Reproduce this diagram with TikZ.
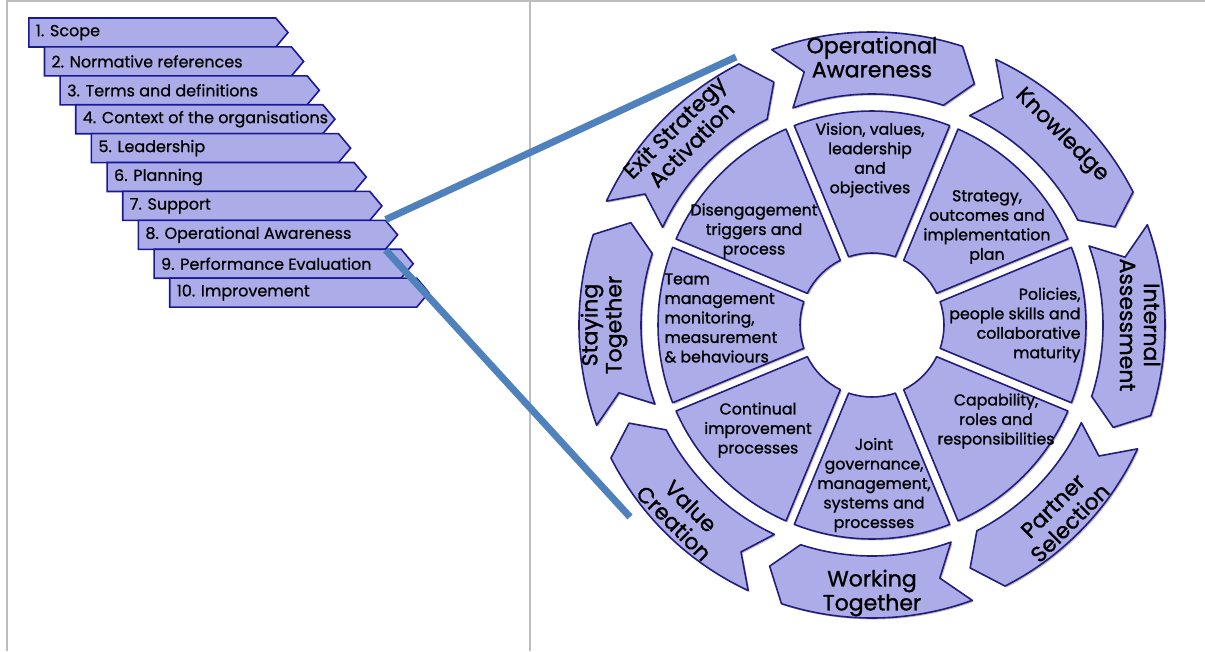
\documentclass[tikz,border=0pt]{standalone}
\usepackage{fontspec}
\setmainfont{Poppins}
\newfontfamily\wheelfont[FakeBold=1.2]{Poppins}
\newfontfamily\listfont[FakeBold=0.7]{Poppins}
\usetikzlibrary{shapes.symbols}
\definecolor{lav}{RGB}{172,172,232}
\definecolor{navy}{RGB}{35,30,125}
\definecolor{boxline}{RGB}{25,25,150}
\definecolor{linkblue}{RGB}{79,129,189}
\definecolor{framegray}{RGB}{190,190,190}
\tikzset{
  listbox/.style={shape=signal, signal to=east, signal pointer angle=100,
    draw=boxline, line width=1.6pt, fill=lav, minimum height=29pt,
    inner xsep=7pt, inner ysep=0pt, anchor=west,
    font=\listfont\fontsize{16}{19}\selectfont},
  ringarrow/.style={draw=navy, line width=1.6pt, fill=lav, line join=round,
    preaction={fill=black!25, transform canvas={shift={(1.5pt,-1.5pt)}}}},
  sector/.style={draw=navy, line width=1.6pt, fill=lav, line join=round,
    preaction={fill=black!25, transform canvas={shift={(1.5pt,-1.5pt)}}}},
  outerlabel/.style={font=\wheelfont\fontsize{22}{24}\selectfont, align=center},
  innerlabel/.style={font=\wheelfont\fontsize{15.8}{19.5}\selectfont, align=center},
  link/.style={draw=linkblue, line width=7pt}
}
\begin{document}
\begin{tikzpicture}[x=1pt,y=1pt]
    \useasboundingbox (0,0) rectangle (1205,-651);
    % table frame
    \draw[framegray, line width=2.5pt] (7,-651) -- (7,-1) -- (1205,-1);
    \draw[framegray, line width=2.5pt] (530,-1) -- (530,-651);

    % clause list
    \foreach \t [count=\i] in {1. Scope, 2. Normative references, 3. Terms and definitions,
        4. Context of the organisations, 5. Leadership, 6. Planning, 7. Support,
        8. Operational Awareness, 9. Performance Evaluation, 10. Improvement}
      \node[listbox] (s\i) at ({28+15.66*(\i-1)},{-32.5-28.9*(\i-1)}) {\makebox[233pt][l]{\t}};

    % wheel
    \begin{scope}[shift={(872,-325)}]
      \foreach \a/\t/\r [count=\k] in {90/{Operational\\Awareness}/0, 45/Knowledge/-45,
          0/{Internal\\Assessment}/-90, -45/{Partner\\Selection}/45,
          -90/{Working\\Together}/0, -135/{Value\\Creation}/-45,
          180/{Staying\\Together}/90, 135/{Exit Strategy\\Activation}/45}
      {
        \draw[ringarrow] ({\a+20}:293) arc[start angle={\a+20}, end angle={\a-18}, radius=293]
          -- ({\a-23}:262) -- ({\a-18}:231) arc[start angle={\a-18}, end angle={\a+20}, radius=231]
          -- ({\a+15}:262) -- cycle;
        \node[outerlabel, rotate=\r] (ring\k) at (\a:268) {\t};
      }
      \foreach \a in {90,45,...,-225}
        \draw[sector] ({\a+18.9}:72) -- ({\a+21.3}:214)
          arc[start angle={\a+21.3}, end angle={\a-21.3}, radius=214]
          -- ({\a-18.9}:72) arc[start angle={\a-18.9}, end angle={\a+18.9}, radius=72] -- cycle;
      \node[innerlabel] (vision) at (-2,165) {Vision, values,\\leadership\\and\\objectives};
      \node[innerlabel] (strategy) at (115,98) {Strategy,\\outcomes and\\implementation\\plan};
      \node[innerlabel, align=right, anchor=east] (policies) at (212,0) {Policies,\\people skills and\\collaborative\\maturity};
      \node[innerlabel] (capability) at (124,-96) {Capability,\\roles and\\responsibilities};
      \node[innerlabel] (joint) at (2,-160) {Joint\\governance,\\management,\\systems and\\processes};
      \node[innerlabel] (continual) at (-114,-105) {Continual\\improvement\\processes};
      \node[innerlabel, align=left, anchor=west] (team) at (-211,7) {Team\\management\\monitoring,\\measurement\\\& behaviours};
      \node[innerlabel] (disengage) at (-118,94) {Disengagement\\triggers and\\process};
    \end{scope}

    % links from clause 8 to the wheel
    \coordinate (exitend) at (736,-57);
    \coordinate (valueend) at (630,-517);
    \draw[link] (s8.north east) -- (exitend);
    \draw[link] (s8.south east) -- (valueend);
\end{tikzpicture}
\end{document}
